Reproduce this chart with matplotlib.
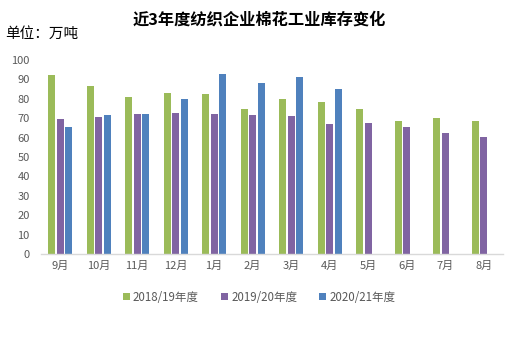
import matplotlib
matplotlib.use("Agg")
import matplotlib.pyplot as plt
import numpy as np
from matplotlib.patches import Patch

plt.rcParams['font.family'] = ['Noto Sans CJK SC', 'DejaVu Sans']

months = ['9月', '10月', '11月', '12月', '1月', '2月', '3月', '4月', '5月', '6月', '7月', '8月']
s2018 = [92.3, 86.6, 80.9, 83.0, 82.5, 74.7, 79.9, 78.4, 74.7, 68.6, 70.1, 68.6]
s2019 = [69.6, 70.6, 72.2, 72.7, 72.2, 71.6, 71.1, 67.0, 67.5, 65.5, 62.4, 60.3]
s2020 = [65.5, 71.6, 72.2, 79.9, 92.8, 88.1, 91.2, 85.1, np.nan, np.nan, np.nan, np.nan]
series_names = ['2018/19年度', '2019/20年度', '2020/21年度']
colors = ['#9BBB59', '#8064A2', '#4F81BD']

fig = plt.figure(figsize=(5.18, 3.55), dpi=100)
ax = fig.add_axes([0.079, 0.2845, 0.892, 0.5465])

x = np.arange(len(months))
w = 0.18
off = 0.22
for i, (vals, c) in enumerate(zip([s2018, s2019, s2020], colors)):
    ax.bar(x + (i - 1) * off, vals, width=w, color=c, zorder=2)

ax.set_xlim(-0.5, len(months) - 0.5)
ax.set_ylim(0, 100)
ax.set_yticks(range(0, 101, 10))
ax.set_xticks(x)
ax.set_xticklabels(months)
for s in ['top', 'right', 'left']:
    ax.spines[s].set_visible(False)
ax.spines['bottom'].set_color('#D9D9D9')
ax.spines['bottom'].set_linewidth(1.0)
ax.tick_params(axis='both', length=0, labelsize=8, colors='#595959', pad=5)
ax.tick_params(axis='y', pad=8)

fig.text(0.5, 0.945, '近3年度纺织企业棉花工业库存变化', ha='center', va='center',
         fontsize=11.7, fontweight='bold', color='black')
fig.text(0.01, 0.905, '单位：万吨', ha='left', va='center', fontsize=10.5, color='black')

handles = [Patch(facecolor=c, edgecolor='none') for c in colors]
fig.legend(handles, series_names, loc='center', bbox_to_anchor=(0.5, 0.163), ncol=3,
           frameon=False, fontsize=8.3, handlelength=0.6, handleheight=0.6,
           handletextpad=0.3, columnspacing=1.9, labelcolor='#595959')

fig.savefig('out.png', dpi=100)
